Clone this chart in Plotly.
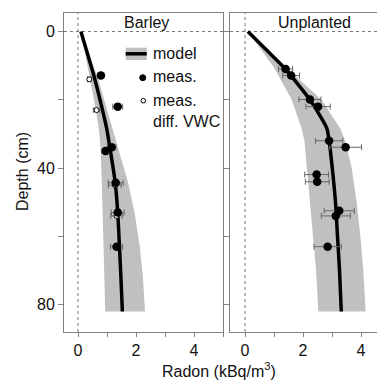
import plotly.graph_objects as go

W, H = 377, 381

# ---------------- data ----------------
# Barley panel
barley_model_depth = [0, 10, 13.6, 20, 28, 34, 44, 53, 63, 72, 82]
barley_model = [0.1, 0.45, 0.57, 0.76, 0.98, 1.10, 1.28, 1.37, 1.43, 1.48, 1.53]
barley_low = [0.1, 0.33, 0.42, 0.55, 0.71, 0.78, 0.82, 0.85, 0.88, 0.91, 0.94]
barley_high = [0.1, 0.52, 0.69, 0.90, 1.15, 1.38, 1.72, 1.95, 2.13, 2.24, 2.31]

barley_meas_x = [0.79, 1.37, 1.16, 0.95, 1.30, 1.37, 1.33]
barley_meas_depth = [12.9, 22.0, 33.9, 35.0, 44.3, 53.0, 63.0]
barley_meas_err = [0.10, 0.17, 0.15, 0.12, 0.26, 0.22, 0.21]

barley_vwc_x = [0.39, 0.64, 1.27, 1.33]
barley_vwc_depth = [14.0, 23.0, 45.0, 54.0]
barley_vwc_err = [0.06, 0.11, 0.22, 0.20]

# Unplanted panel
unpl_model_depth = [0, 5, 10.7, 20, 28.3, 32, 40, 50, 60, 70, 82]
unpl_model = [0.1, 0.69, 1.36, 2.24, 2.82, 2.90, 3.01, 3.12, 3.19, 3.26, 3.32]
unpl_low = [0.1, 0.52, 1.01, 1.61, 1.95, 2.05, 2.13, 2.25, 2.35, 2.45, 2.53]
unpl_high = [0.1, 0.75, 1.44, 2.64, 3.28, 3.45, 3.68, 3.85, 3.98, 4.08, 4.16]

unpl_meas_x = [1.40, 1.59, 2.24, 2.52, 2.90, 3.47, 2.47, 2.49, 3.25, 3.13, 2.85]
unpl_meas_depth = [11.0, 12.9, 19.9, 22.0, 32.0, 33.9, 41.9, 44.0, 52.5, 54.0, 63.0]
unpl_meas_err = [0.24, 0.29, 0.38, 0.42, 0.47, 0.55, 0.41, 0.41, 0.52, 0.50, 0.47]

x_tickvals = [0, 1, 2, 3, 4, 5]
x_ticktext = ["0", "", "2", "", "4", ""]
y_tickvals = [0, 20, 40, 60, 80]
y_ticktext = ["0", "", "40", "", "80"]

# ---------------- styling ----------------
FONT = "Liberation Sans"
BAND = "#c0c0c0"
AXC = "#808080"
ERRC = "#666666"


def px(x):
    return x / W


def py(y):
    return 1 - y / H


fig = go.Figure()


def add_panel(xa, ya, depth, model, low, high, mx, md, me, hx=None, hd=None, he=None):
    fig.add_trace(go.Scatter(
        x=list(low) + list(high)[::-1], y=list(depth) + list(depth)[::-1],
        fill="toself", fillcolor=BAND, line=dict(width=0), mode="lines",
        xaxis=xa, yaxis=ya, showlegend=False, hoverinfo="skip"))
    fig.add_trace(go.Scatter(
        x=model, y=depth, mode="lines", line=dict(color="black", width=3.5, shape="spline", smoothing=0.6),
        xaxis=xa, yaxis=ya, showlegend=False))
    if hx is not None:
        fig.add_trace(go.Scatter(
            x=hx, y=hd, mode="markers",
            marker=dict(symbol="circle", size=5, color="white", line=dict(color="black", width=1)),
            error_x=dict(type="data", array=he, color=ERRC, thickness=1, width=3),
            xaxis=xa, yaxis=ya, showlegend=False))
    fig.add_trace(go.Scatter(
        x=mx, y=md, mode="markers",
        marker=dict(symbol="circle", size=8.5, color="black"),
        error_x=dict(type="data", array=me, color=ERRC, thickness=1, width=3),
        xaxis=xa, yaxis=ya, showlegend=False))


add_panel("x", "y", barley_model_depth, barley_model, barley_low, barley_high,
          barley_meas_x, barley_meas_depth, barley_meas_err,
          barley_vwc_x, barley_vwc_depth, barley_vwc_err)
add_panel("x2", "y2", unpl_model_depth, unpl_model, unpl_low, unpl_high,
          unpl_meas_x, unpl_meas_depth, unpl_meas_err)

x0 = 78.0
xs = 29.0
y0 = 31.5
ys = 3.415
yrange = [(332 - y0) / ys, (13 - y0) / ys]

common_x = dict(showgrid=False, zeroline=False, showline=True, linecolor=AXC, linewidth=1,
                ticks="outside", ticklen=4, tickcolor=AXC, tickvals=x_tickvals, ticktext=x_ticktext,
                tickfont=dict(family=FONT, size=16, color="#111"), mirror=True)
common_y = dict(showgrid=False, zeroline=False, showline=True, linecolor=AXC, linewidth=1,
                ticks="outside", ticklen=5, tickcolor=AXC, tickvals=y_tickvals,
                tickfont=dict(family=FONT, size=16, color="#111"), range=yrange)

fig.update_layout(
    width=W, height=H, margin=dict(l=0, r=0, t=0, b=0),
    paper_bgcolor="white", plot_bgcolor="white",
    font=dict(family=FONT, size=16, color="#111"),
    xaxis=dict(domain=[px(64), px(223)], range=[(64 - x0) / xs, (223 - x0) / xs], anchor="y", **common_x),
    yaxis=dict(domain=[py(332), py(13)], anchor="x", ticktext=y_ticktext, mirror=True, **common_y),
    xaxis2=dict(domain=[px(230), 1.0], range=[(230 - 245) / xs, (W - 245) / xs], anchor="y2", **common_x),
    yaxis2=dict(domain=[py(332), py(13)], anchor="x2", showticklabels=False, mirror=False, **common_y),
)

# dotted reference lines
for xa, ya in (("x", "y"), ("x2", "y2")):
    fig.add_shape(type="line", xref=xa + " domain", yref=ya, x0=0, x1=1, y0=0, y1=0,
                  line=dict(color="#777", width=1, dash="dot"), layer="below")
    fig.add_shape(type="line", xref=xa, yref=ya + " domain", x0=0, x1=0, y0=0, y1=1,
                  line=dict(color="#777", width=1, dash="dot"), layer="below")

# panel titles
fig.add_annotation(text="Barley", xref="paper", yref="paper", x=px(146.5), y=py(22.5),
                   showarrow=False, font=dict(size=16, family=FONT, color="#111"), xanchor="center", yanchor="middle")
fig.add_annotation(text="Unplanted", xref="paper", yref="paper", x=px(314), y=py(22.5),
                   showarrow=False, font=dict(size=16, family=FONT, color="#111"), xanchor="center", yanchor="middle")

# axis titles
fig.add_annotation(text="Radon (kBq/m<sup>3</sup>)", xref="paper", yref="paper", x=px(219), y=py(370),
                   showarrow=False, font=dict(size=16, family=FONT, color="#111"), xanchor="center", yanchor="middle")
fig.add_annotation(text="Depth (cm)", xref="paper", yref="paper", x=px(23), y=py(172),
                   showarrow=False, textangle=-90, font=dict(size=16, family=FONT, color="#111"),
                   xanchor="center", yanchor="middle")

# legend (drawn manually)
fig.add_shape(type="rect", xref="paper", yref="paper", x0=px(125.7), x1=px(146.7), y0=py(60), y1=py(47.7),
              fillcolor=BAND, line=dict(width=0))
fig.add_shape(type="line", xref="paper", yref="paper", x0=px(125.7), x1=px(146.7), y0=py(53.8), y1=py(53.8),
              line=dict(color="black", width=3.5))
fig.add_shape(type="circle", xref="paper", yref="paper", x0=px(139.7), x1=px(145.7), y0=py(80.7), y1=py(74.7),
              fillcolor="black", line=dict(color="black", width=1))
fig.add_shape(type="circle", xref="paper", yref="paper", x0=px(141.0), x1=px(145.6), y0=py(103.0), y1=py(98.4),
              fillcolor="white", line=dict(color="black", width=1))
fig.add_annotation(text="model", xref="paper", yref="paper", x=px(150.5), y=py(53.5), showarrow=False,
                   font=dict(size=16, family=FONT, color="#111"), xanchor="left", yanchor="middle")
fig.add_annotation(text="meas.", xref="paper", yref="paper", x=px(150.5), y=py(76.5), showarrow=False,
                   font=dict(size=16, family=FONT, color="#111"), xanchor="left", yanchor="middle")
fig.add_annotation(text="meas.<br>diff. VWC", xref="paper", yref="paper", x=px(150.5), y=py(110.5),
                   showarrow=False, align="left",
                   font=dict(size=16, family=FONT, color="#111"), xanchor="left", yanchor="middle")

fig.write_html("out.html", config={"displayModeBar": False},
               post_script="document.body.style.margin='0px';document.body.style.padding='0px';"
                           "document.documentElement.style.overflow='hidden';")
